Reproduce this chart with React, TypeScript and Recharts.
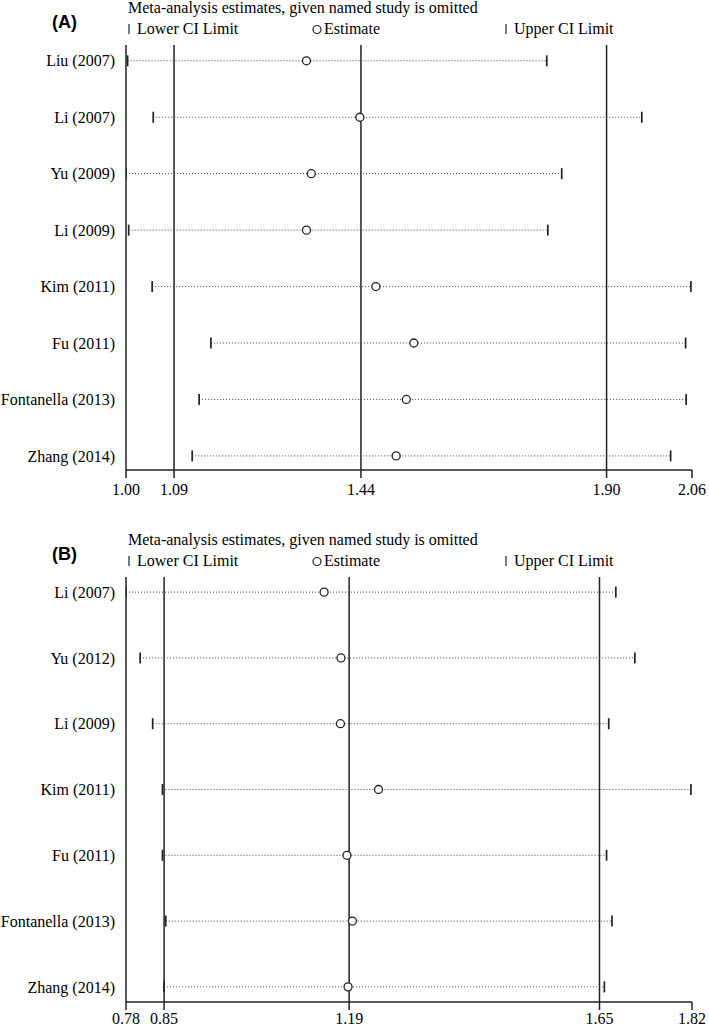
import React from "react";
import { ScatterChart, Scatter, XAxis, YAxis, ReferenceLine } from "recharts";

// Panel A
const studiesA = ["Liu (2007)", "Li (2007)", "Yu (2009)", "Li (2009)", "Kim (2011)", "Fu (2011)", "Fontanella (2013)", "Zhang (2014)"];
const lowerA = [1.003, 1.051, 1.0, 1.005, 1.049, 1.159, 1.137, 1.124];
const estA = [1.338, 1.438, 1.347, 1.338, 1.468, 1.539, 1.525, 1.506];
const upperA = [1.788, 1.966, 1.816, 1.79, 2.058, 2.048, 2.049, 2.02];
const ticksA = [1.0, 1.09, 1.44, 1.9, 2.06];
const refsA = [1.09, 1.44, 1.9];

// Panel B
const studiesB = ["Li (2007)", "Yu (2012)", "Li (2009)", "Kim (2011)", "Fu (2011)", "Fontanella (2013)", "Zhang (2014)"];
const lowerB = [0.78, 0.806, 0.829, 0.847, 0.847, 0.853, 0.85];
const estB = [1.144, 1.175, 1.174, 1.244, 1.186, 1.196, 1.188];
const upperB = [1.68, 1.715, 1.667, 1.818, 1.663, 1.673, 1.659];
const ticksB = [0.78, 0.85, 1.19, 1.65, 1.82];
const refsB = [0.85, 1.19, 1.65];

const TITLE = "Meta-analysis estimates, given named study is omitted";
const FONT = '"Liberation Serif", "Times New Roman", serif';
const INK = "#222";

const CiTick = (props: any) => {
  const { cx, cy } = props;
  return <line x1={cx} x2={cx} y1={cy - 5.5} y2={cy + 5.5} stroke={INK} strokeWidth={1.7} />;
};

const EstDot = (props: any) => {
  const { cx, cy } = props;
  return <circle cx={cx} cy={cy} r={4} fill="#fff" stroke={INK} strokeWidth={1.3} />;
};

function Header({ label }: { label: string }) {
  return (
    <svg width={709} height={45} style={{ position: "absolute", left: 0, top: 0 }}>
      <text x={52} y={28} fontFamily='"Liberation Sans", Arial, sans-serif' fontWeight="bold" fontSize={18} fill="#000">
        {label}
      </text>
      <text x={128} y={13} fontFamily={FONT} fontSize={16} fill="#000">{TITLE}</text>
      <line x1={129} x2={129} y1={24} y2={34} stroke={INK} strokeWidth={1.2} />
      <text x={137} y={34} fontFamily={FONT} fontSize={16} fill="#000">Lower CI Limit</text>
      <circle cx={317} cy={29.5} r={4} fill="#fff" stroke={INK} strokeWidth={1.2} />
      <text x={324} y={34} fontFamily={FONT} fontSize={16} fill="#000">Estimate</text>
      <line x1={506} x2={506} y1={24} y2={34} stroke={INK} strokeWidth={1.2} />
      <text x={514} y={34} fontFamily={FONT} fontSize={16} fill="#000">Upper CI Limit</text>
    </svg>
  );
}

type PanelProps = {
  label: string;
  studies: string[];
  lower: number[];
  est: number[];
  upper: number[];
  ticks: number[];
  refs: number[];
  yDomain: [number, number];
  top: number;
  height: number;
  xAxisHeight: number;
  xTickMargin: number;
};

function Panel(p: PanelProps) {
  const ends = [
    ...p.lower.map((v, i) => ({ x: v, y: i })),
    ...p.upper.map((v, i) => ({ x: v, y: i })),
  ];
  const points = p.est.map((v, i) => ({ x: v, y: i }));
  const rows = p.studies.map((_, i) => i);
  const tickFont = { fill: "#000", fontSize: 16, fontFamily: FONT };

  return (
    <div style={{ position: "absolute", left: 0, top: p.top, width: 709, height: p.height, fontFamily: FONT }}>
      <ScatterChart
        width={709}
        height={p.height}
        margin={{ top: 45, right: 17, bottom: 0, left: 0 }}
        style={{ fontFamily: FONT }}
      >
        <XAxis
          type="number"
          dataKey="x"
          domain={[p.ticks[0], p.ticks[p.ticks.length - 1]]}
          ticks={p.ticks}
          interval={0}
          allowDataOverflow
          tickFormatter={(v: number) => v.toFixed(2)}
          height={p.xAxisHeight}
          tickSize={8}
          tickMargin={p.xTickMargin}
          stroke={INK}
          strokeWidth={1.5}
          tick={tickFont}
        />
        <YAxis
          type="number"
          dataKey="y"
          domain={p.yDomain}
          reversed
          ticks={rows}
          interval={0}
          allowDataOverflow
          tickFormatter={(v: number) => p.studies[v] ?? ""}
          width={126}
          tickLine={false}
          tickSize={0}
          tickMargin={11}
          stroke={INK}
          strokeWidth={1.5}
          tick={tickFont}
        />
        {p.refs.map((r) => (
          <ReferenceLine key={`ref-${r}`} x={r} stroke={INK} strokeWidth={1.5} />
        ))}
        {rows.map((i) => (
          <ReferenceLine
            key={`ci-${i}`}
            segment={[{ x: p.lower[i], y: i }, { x: p.upper[i], y: i }]}
            stroke="#444"
            strokeWidth={1}
            strokeDasharray="1 2"
            ifOverflow="visible"
          />
        ))}
        <Scatter data={ends} shape={CiTick} isAnimationActive={false} />
        <Scatter data={points} shape={EstDot} isAnimationActive={false} />
      </ScatterChart>
      <Header label={p.label} />
    </div>
  );
}

export default function App() {
  return (
    <div style={{ position: "absolute", left: 0, top: 0, width: 709, height: 1028, background: "#fff" }}>
      <Panel
        label="(A)"
        studies={studiesA}
        lower={lowerA}
        est={estA}
        upper={upperA}
        ticks={ticksA}
        refs={refsA}
        yDomain={[-0.28, 7.25]}
        top={0}
        height={532}
        xAxisHeight={62}
        xTickMargin={6}
      />
      <Panel
        label="(B)"
        studies={studiesB}
        lower={lowerB}
        est={estB}
        upper={upperB}
        ticks={ticksB}
        refs={refsB}
        yDomain={[-0.23, 6.23]}
        top={532}
        height={496}
        xAxisHeight={26}
        xTickMargin={3}
      />
    </div>
  );
}
